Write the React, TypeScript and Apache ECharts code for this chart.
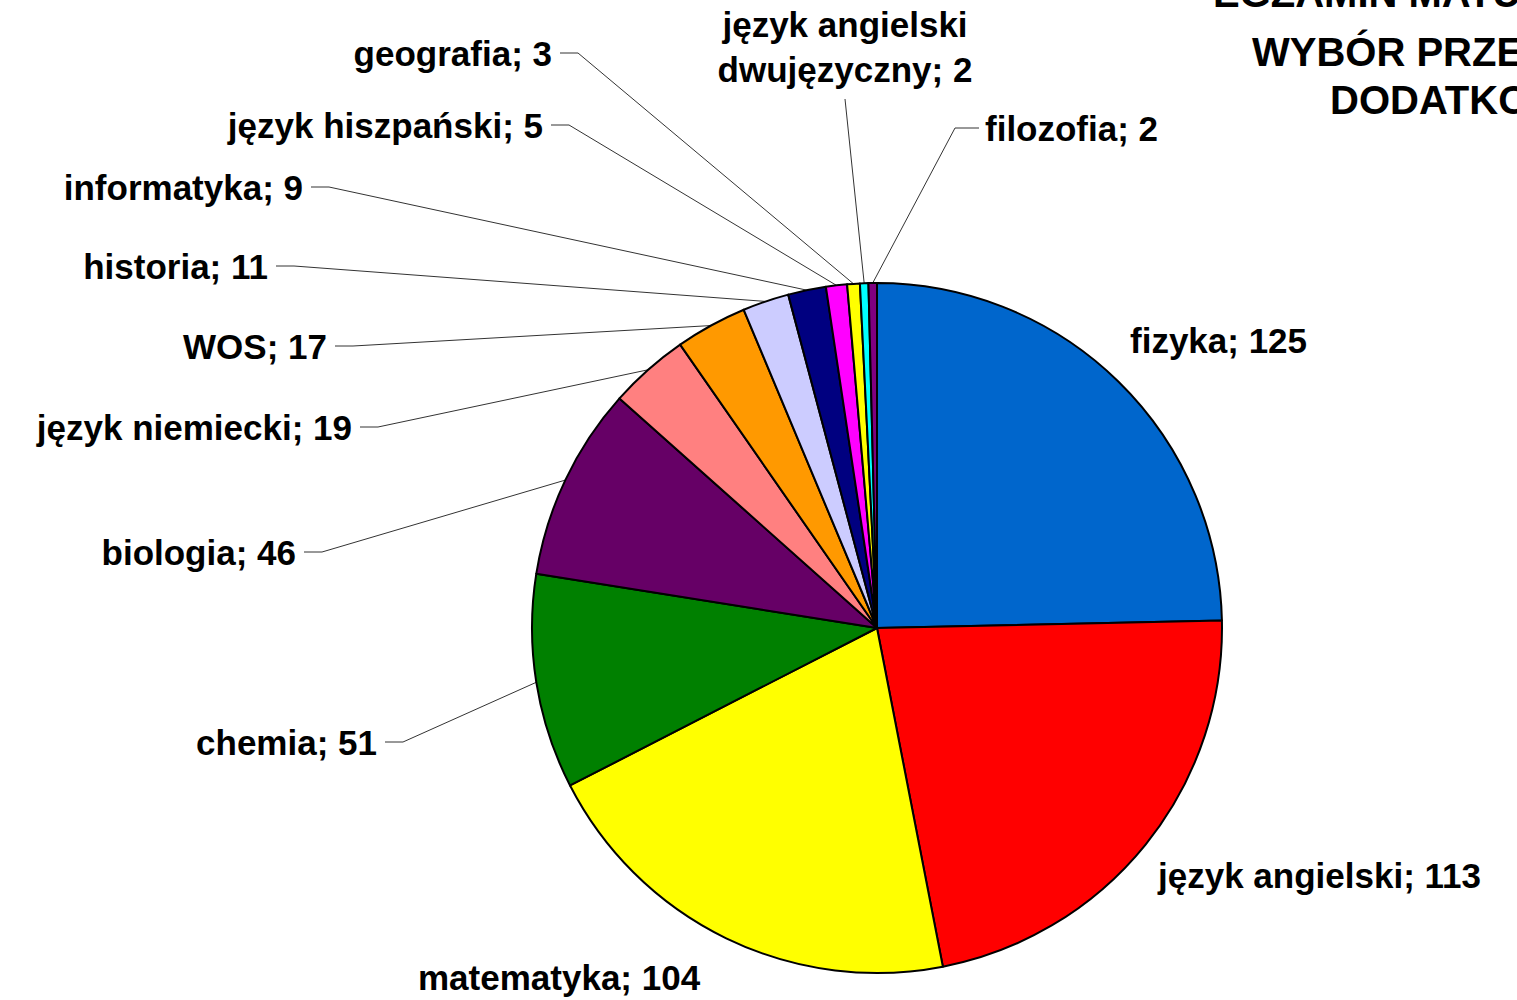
import React, { useEffect, useRef } from "react";
import * as echarts from "echarts";

const categories = [
  "fizyka",
  "język angielski",
  "matematyka",
  "chemia",
  "biologia",
  "język niemiecki",
  "WOS",
  "historia",
  "informatyka",
  "język hiszpański",
  "geografia",
  "język angielski\ndwujęzyczny",
  "filozofia",
];
const values = [125, 113, 104, 51, 46, 19, 17, 11, 9, 5, 3, 2, 2];
const colors = [
  "#0066CC",
  "#FF0000",
  "#FFFF00",
  "#008000",
  "#660066",
  "#FF8080",
  "#FF9900",
  "#CCCCFF",
  "#000080",
  "#FF00FF",
  "#FFFF00",
  "#00FFFF",
  "#800080",
];
const titleLines = ["EGZAMIN MATURALNY 2010", "WYBÓR PRZEDMIOTÓW", "DODATKOWYCH"];

// label layout: [x, y, align, lineMode]  lineMode: 0 none, 1 left-side, 2 right-side, 3 top
const labelPos: [number, number, string, number][] = [
  [1130, 340, "left", 0],
  [1158, 875, "left", 0],
  [418, 977, "left", 0],
  [377, 742, "right", 1],
  [296, 552, "right", 1],
  [352, 427, "right", 1],
  [327, 346, "right", 1],
  [268, 266, "right", 1],
  [303, 187, "right", 1],
  [543, 125, "right", 1],
  [552, 53, "right", 1],
  [845, 47, "center", 3],
  [985, 128, "left", 2],
];

export default function App() {
  const ref = useRef<HTMLDivElement>(null);
  useEffect(() => {
    if (!ref.current) return;
    const chart = echarts.init(ref.current, null, { renderer: "svg" });
    const font = "'Liberation Sans', Arial, sans-serif";
    chart.setOption({
      animation: false,
      backgroundColor: "#ffffff",
      graphic: [
        { type: "text", left: 1213, top: -27, style: { text: titleLines[0], font: `bold 40px ${font}`, fill: "#000" } },
        { type: "text", left: 1252, top: 32, style: { text: titleLines[1], font: `bold 40px ${font}`, fill: "#000" } },
        { type: "text", left: 1330, top: 80, style: { text: titleLines[2], font: `bold 40px ${font}`, fill: "#000" } },
      ],
      series: [
        {
          type: "pie",
          center: [877, 628],
          radius: 345,
          startAngle: 90,
          clockwise: true,
          avoidLabelOverlap: false,
          itemStyle: { borderColor: "#000", borderWidth: 2 },
          label: {
            show: true,
            position: "outside",
            formatter: "{b}; {c}",
            fontFamily: font,
            fontWeight: "bold",
            fontSize: 35,
            lineHeight: 45,
            color: "#000",
          },
          labelLine: { show: true, lineStyle: { color: "#333", width: 1 } },
          labelLayout: (params: any) => {
            const i = params.dataIndex;
            const [x, y, align, mode] = labelPos[i];
            const p0 = params.labelLinePoints ? params.labelLinePoints[0] : [877, 283];
            let pts: number[][] = [p0, p0, p0];
            if (mode === 1) pts = [p0, [x + 26, y], [x + 8, y]];
            else if (mode === 2) pts = [p0, [x - 30, y], [x - 6, y]];
            else if (mode === 3) pts = [p0, [x, y + 52], [x, y + 52]];
            return { x, y, align, verticalAlign: "middle", labelLinePoints: pts };
          },
          data: categories.map((name, i) => ({
            name,
            value: values[i],
            itemStyle: { color: colors[i] },
            labelLine: { show: labelPos[i][3] !== 0 },
          })),
        },
      ],
    });
    return () => chart.dispose();
  }, []);
  return (
    <div
      ref={ref}
      style={{ position: "fixed", left: 0, top: 0, width: 1517, height: 1000, background: "#fff" }}
    />
  );
}
